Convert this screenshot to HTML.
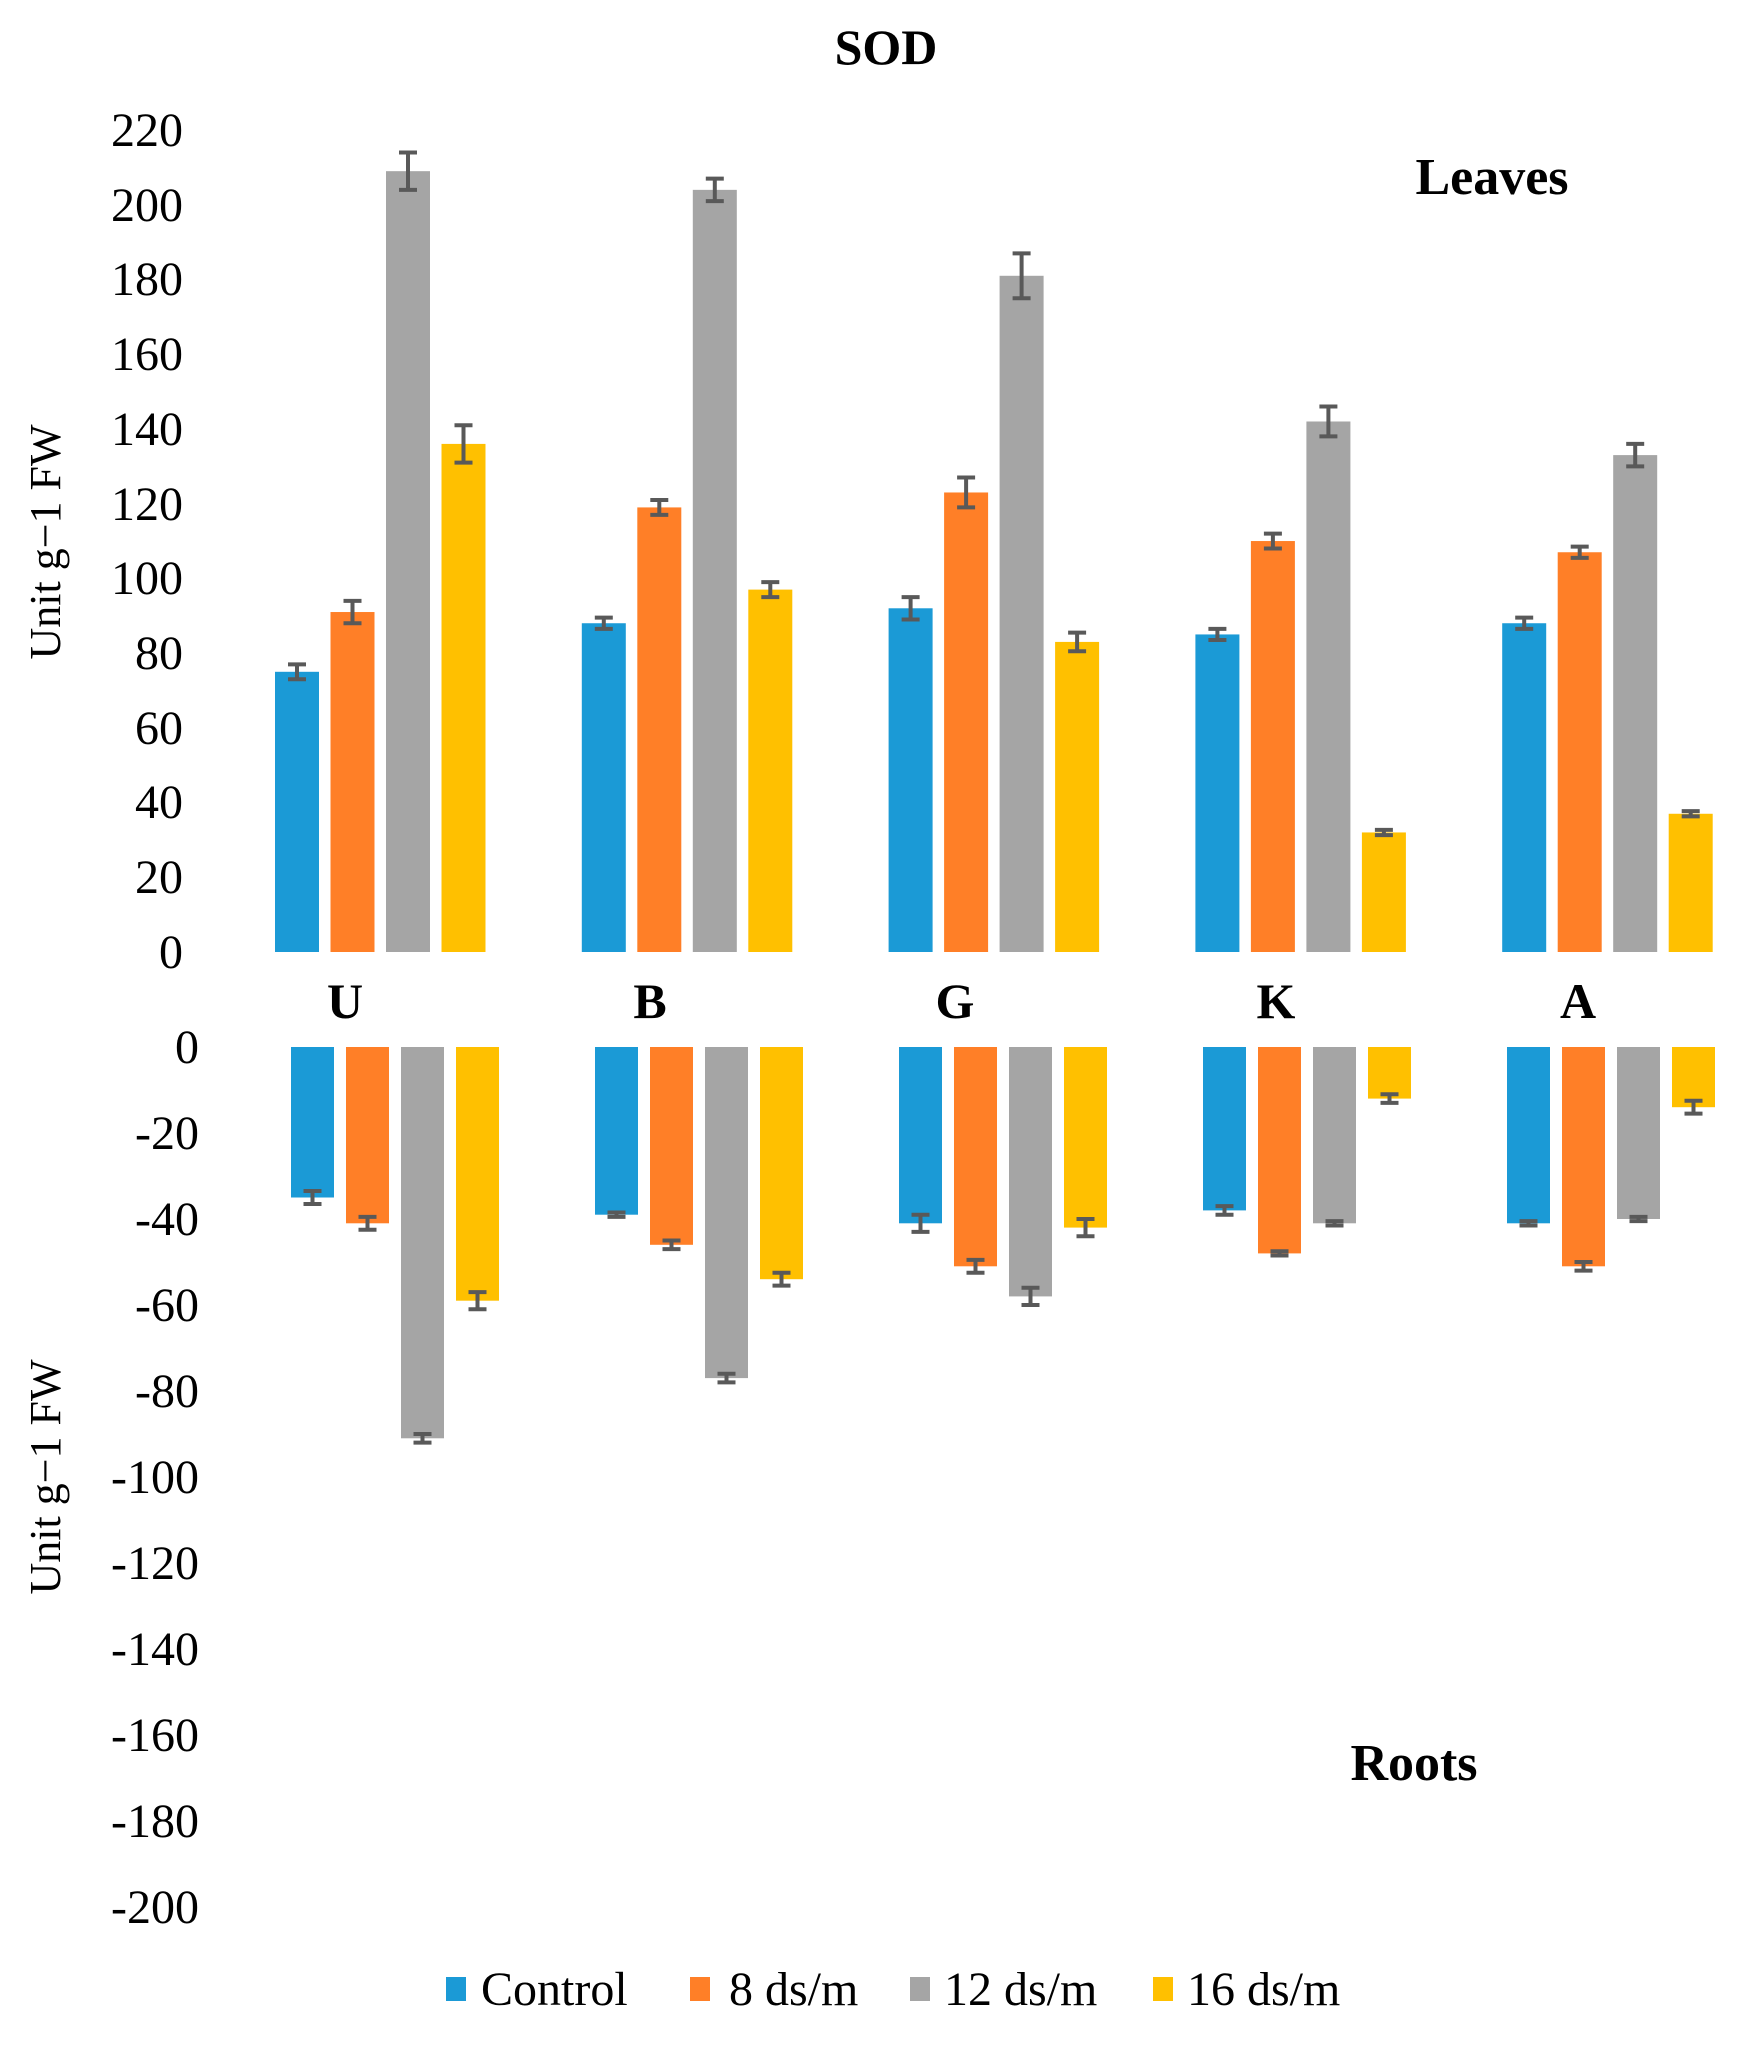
<!DOCTYPE html>
<html><head><meta charset="utf-8"><style>
body{margin:0;background:#fff}
svg{display:block}
text{font-family:"Liberation Serif",serif;fill:#000}
</style></head><body>
<svg id="s" width="1738" height="2050" viewBox="0 0 1738 2050" xmlns="http://www.w3.org/2000/svg">
<text x="886" y="64" font-size="50" font-weight="bold" text-anchor="middle">SOD</text>
<text x="1492" y="194" font-size="52" font-weight="bold" text-anchor="middle">Leaves</text>
<text x="1414" y="1780" font-size="52" font-weight="bold" text-anchor="middle">Roots</text>
<g font-size="48" text-anchor="end">
<text x="183" y="146">220</text><text x="183" y="221">200</text><text x="183" y="295">180</text>
<text x="183" y="370">160</text><text x="183" y="445">140</text><text x="183" y="520">120</text>
<text x="183" y="594">100</text><text x="183" y="669">80</text><text x="183" y="744">60</text>
<text x="183" y="818">40</text><text x="183" y="893">20</text><text x="183" y="968">0</text>
<text x="199" y="1063">0</text><text x="199" y="1149">-20</text><text x="199" y="1235">-40</text>
<text x="199" y="1321">-60</text><text x="199" y="1407">-80</text><text x="199" y="1493">-100</text>
<text x="199" y="1579">-120</text><text x="199" y="1665">-140</text><text x="199" y="1751">-160</text>
<text x="199" y="1837">-180</text><text x="199" y="1923">-200</text>
</g>
<g font-size="50" font-weight="bold" text-anchor="middle">
<text x="345" y="1018">U</text><text x="650" y="1018">B</text><text x="955" y="1018">G</text>
<text x="1276" y="1018">K</text><text x="1578" y="1018">A</text>
</g>
<text transform="translate(60,542) rotate(-90)" font-size="44" text-anchor="middle">Unit g−1 FW</text>
<text transform="translate(60,1477) rotate(-90)" font-size="44" text-anchor="middle">Unit g−1 FW</text>
<g font-size="48">
<rect x="446" y="1977" width="20" height="24" fill="#1b9ad6"/><text x="481" y="2005">Control</text>
<rect x="690" y="1977" width="20" height="24" fill="#ff7f27"/><text x="729" y="2005">8 ds/m</text>
<rect x="910" y="1977" width="20" height="24" fill="#a5a5a5"/><text x="944" y="2005">12 ds/m</text>
<rect x="1153" y="1977" width="20" height="24" fill="#ffc000"/><text x="1187" y="2005">16 ds/m</text>
</g>
<g id="bars"></g>
</svg>
<script>
(function(){
var C=["#1b9ad6","#ff7f27","#a5a5a5","#ffc000"];
var tv=[[75,91,209,136],[88,119,204,97],[92,123,181,83],[85,110,142,32],[88,107,133,37]];
var te=[[2,3,5,5],[1.5,2,3,2],[3,4,6,2.5],[1.5,2,4,0.7],[1.5,1.5,3,0.7]];
var bv=[[35,41,91,59],[39,46,77,54],[41,51,58,42],[38,48,41,12],[41,51,40,14]];
var be=[[1.5,1.5,1,2],[0.5,1,1,1.5],[2,1.5,2,2],[1,0.5,0.5,1],[0.5,1,0.5,1.5]];
var h="";
function eb(cx,y,e,sc){var a=y-e*sc,b=y+e*sc;return '<line x1="'+cx+'" x2="'+cx+'" y1="'+a+'" y2="'+b+'" stroke="#595959" stroke-width="4"/><line x1="'+(cx-9)+'" x2="'+(cx+9)+'" y1="'+a+'" y2="'+a+'" stroke="#595959" stroke-width="4"/><line x1="'+(cx-9)+'" x2="'+(cx+9)+'" y1="'+b+'" y2="'+b+'" stroke="#595959" stroke-width="4"/>';}
for(var g=0;g<5;g++)for(var s=0;s<4;s++){
 var x=275+g*306.8+s*55.5,v=tv[g][s],sc=3.736,y=952-v*sc;
 h+='<rect x="'+x+'" y="'+y+'" width="44" height="'+(v*sc)+'" fill="'+C[s]+'"/>'+eb(x+22,y,te[g][s],sc);
 x=291+g*304+s*55;v=bv[g][s];sc=4.3;y=1047+v*sc;
 h+='<rect x="'+x+'" y="1047" width="43" height="'+(v*sc)+'" fill="'+C[s]+'"/>'+eb(x+21.5,y,be[g][s],sc);
}
document.getElementById("bars").innerHTML=h;
})();
</script>
</body></html>
